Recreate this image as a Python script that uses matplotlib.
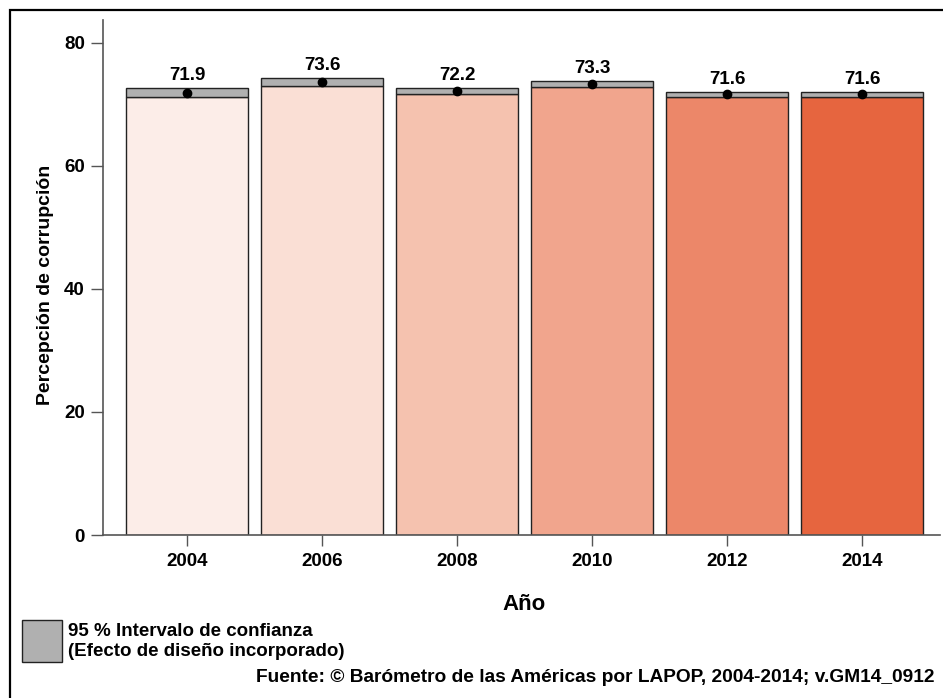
import matplotlib
matplotlib.use("Agg")
import matplotlib.pyplot as plt
from matplotlib.patches import Rectangle

years = ["2004", "2006", "2008", "2010", "2012", "2014"]
means = [71.9, 73.6, 72.2, 73.3, 71.6, 71.6]
ci_low = [71.2, 73.0, 71.7, 72.8, 71.2, 71.2]
ci_high = [72.6, 74.2, 72.7, 73.8, 72.0, 72.0]
bar_colors = ["#FCEDE8", "#FADFD5", "#F5C2AF", "#F1A58D", "#EC8769", "#E6653F"]
y_ticks = [0, 20, 40, 60, 80]

W, H = 943, 698
fig = plt.figure(figsize=(W / 100, H / 100), dpi=100)
plt.rcParams["font.family"] = ["Liberation Sans", "DejaVu Sans"]

ax = fig.add_axes([103 / W, 1 - 535 / H, 837 / W, 515 / H])
x = list(range(len(years)))
width = 0.9

# bars up to the lower bound, grey band for the confidence interval
ax.bar(x, ci_low, width=width, color=bar_colors, edgecolor="#222222", linewidth=1.0, zorder=2)
ax.bar(x, [h - l for h, l in zip(ci_high, ci_low)], bottom=ci_low, width=width,
       color="#B0B0B0", edgecolor="#222222", linewidth=1.0, zorder=2)
ax.scatter(x, means, s=36, color="black", zorder=4)
for xi, m, h in zip(x, means, ci_high):
    ax.annotate(f"{m:.1f}", (xi, h), xytext=(0, 3), textcoords="offset points",
                ha="center", va="bottom", fontsize=13.5, fontweight="bold", color="black")

ax.set_xlim(-0.622, 5.578)
ax.set_ylim(0, 83.7)
ax.set_xticks(x)
ax.set_xticklabels(years, fontsize=13.5, fontweight="bold")
ax.set_yticks(y_ticks)
ax.set_yticklabels([str(t) for t in y_ticks], fontsize=13.5, fontweight="bold")
ax.tick_params(axis="x", length=8, color="#555555", width=1, pad=5)
ax.tick_params(axis="y", length=9, color="#555555", width=1, pad=4)
for s in ["top", "right"]:
    ax.spines[s].set_visible(False)
for s in ["left", "bottom"]:
    ax.spines[s].set_color("#555555")
    ax.spines[s].set_linewidth(1.2)

ax.set_ylabel("Percepción de corrupción", fontsize=14, fontweight="bold")
ax.yaxis.set_label_coords((46 - 103) / 837, (535 - 285) / 515)
ax.yaxis.label.set_va("center")
ax.set_xlabel("Año", fontsize=16, fontweight="bold")
ax.xaxis.set_label_coords((524 - 103) / 837, (535 - 605) / 515)
ax.xaxis.label.set_va("center")

# legend swatch for the confidence interval
fig.patches.append(Rectangle((22 / W, 1 - 662 / H), 40 / W, 42 / H, transform=fig.transFigure,
                             facecolor="#B0B0B0", edgecolor="#222222", linewidth=1.0))
fig.text(68 / W, 1 - 632 / H, "95 % Intervalo de confianza", fontsize=13.5, fontweight="bold",
         va="center", ha="left")
fig.text(68 / W, 1 - 652 / H, "(Efecto de diseño incorporado)", fontsize=13.5, fontweight="bold",
         va="center", ha="left")
fig.text(935 / W, 1 - 677 / H,
         "Fuente: \u00a9 Barómetro de las Américas por LAPOP, 2004-2014; v.GM14_0912",
         fontsize=13.8, fontweight="bold", va="center", ha="right")

# outer frame
fig.patches.append(Rectangle((10 / W, -0.05), 1.2, 1 - 10 / H + 0.05, transform=fig.transFigure,
                             facecolor="none", edgecolor="black", linewidth=1.6))

fig.savefig("out.png", dpi=100)
